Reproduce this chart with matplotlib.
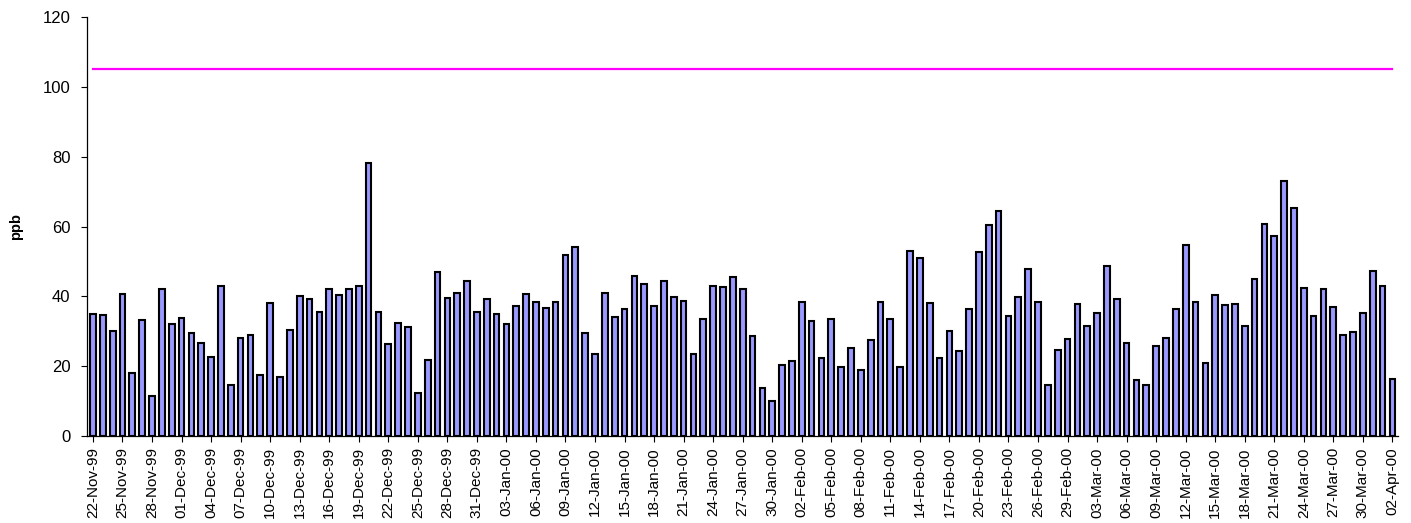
"""Daily maximum concentration (ppb), 22-Nov-99 to 02-Apr-00, with limit line."""
import numpy as np
import pandas as pd
import matplotlib
matplotlib.use("Agg")
import matplotlib.pyplot as plt

plt.rcParams.update({
    "font.family": "Liberation Sans",
    "axes.linewidth": 0.9,
    "xtick.major.width": 0.8, "ytick.major.width": 0.8,
})

# one bar per day
dates = pd.date_range("1999-11-22", "2000-04-02", freq="D")
ppb = [
    34.9, 34.7, 30.1, 40.8, 18.1, 33.3, 11.6, 42.0, 32.0, 33.9,
    29.6, 26.5, 22.6, 42.9, 14.7, 28.2, 28.8, 17.5, 38.1, 16.9,
    30.5, 40.0, 39.1, 35.4, 42.2, 40.5, 42.2, 42.9, 78.1, 35.6,
    26.4, 32.5, 31.3, 12.2, 21.9, 47.0, 39.5, 40.9, 44.4, 35.6,
    39.1, 34.9, 32.0, 37.1, 40.7, 38.5, 36.7, 38.3, 51.7, 54.2,
    29.4, 23.4, 41.0, 34.0, 36.5, 45.8, 43.6, 37.2, 44.4, 39.9,
    38.8, 23.5, 33.4, 43.0, 42.8, 45.4, 42.2, 28.7, 13.8, 10.0,
    20.4, 21.5, 38.5, 33.0, 22.3, 33.6, 19.9, 25.3, 18.9, 27.6,
    38.4, 33.6, 19.9, 53.1, 51.0, 38.1, 22.4, 30.1, 24.4, 36.3,
    52.8, 60.5, 64.3, 34.3, 39.7, 47.9, 38.5, 14.5, 24.5, 27.9,
    37.7, 31.5, 35.3, 48.8, 39.1, 26.6, 16.0, 14.7, 25.9, 28.1,
    36.5, 54.6, 38.5, 20.9, 40.4, 37.5, 37.9, 31.6, 45.1, 60.7,
    57.3, 73.1, 65.3, 42.4, 34.4, 42.0, 36.9, 28.8, 29.8, 35.3,
    47.4, 42.9, 16.3,
]
LIMIT = 105
label_step = 3

x = np.arange(len(dates))
fig = plt.figure(figsize=(14.11, 5.23), dpi=100)
ax = fig.add_axes([0.0617, 0.1663, 0.9293, 0.8012])

ax.bar(x, ppb, 0.58, color="#9999FF", edgecolor="black", linewidth=1.5, zorder=2)
ax.plot([x[0], x[-1]], [LIMIT, LIMIT], color="#FF00FF", lw=1.6, zorder=3)

ax.set_xlim(-0.6, len(dates) - 0.4)
ax.set_ylim(0, 120)
ax.set_yticks(range(0, 121, 20))
ax.set_yticklabels([str(v) for v in range(0, 121, 20)], fontsize=12)
ax.set_xticks(x[::label_step])
ax.set_xticklabels([d.strftime("%d-%b-%y") for d in dates[::label_step]],
                   rotation=90, fontsize=11)
ax.tick_params(axis="both", direction="out", length=4, pad=4)
ax.tick_params(axis="y", pad=8)
ax.set_ylabel("ppb", fontsize=10.5, fontweight="bold", labelpad=14)
ax.spines["top"].set_visible(False)
ax.spines["right"].set_visible(False)

plt.savefig("out.png", dpi=100)
